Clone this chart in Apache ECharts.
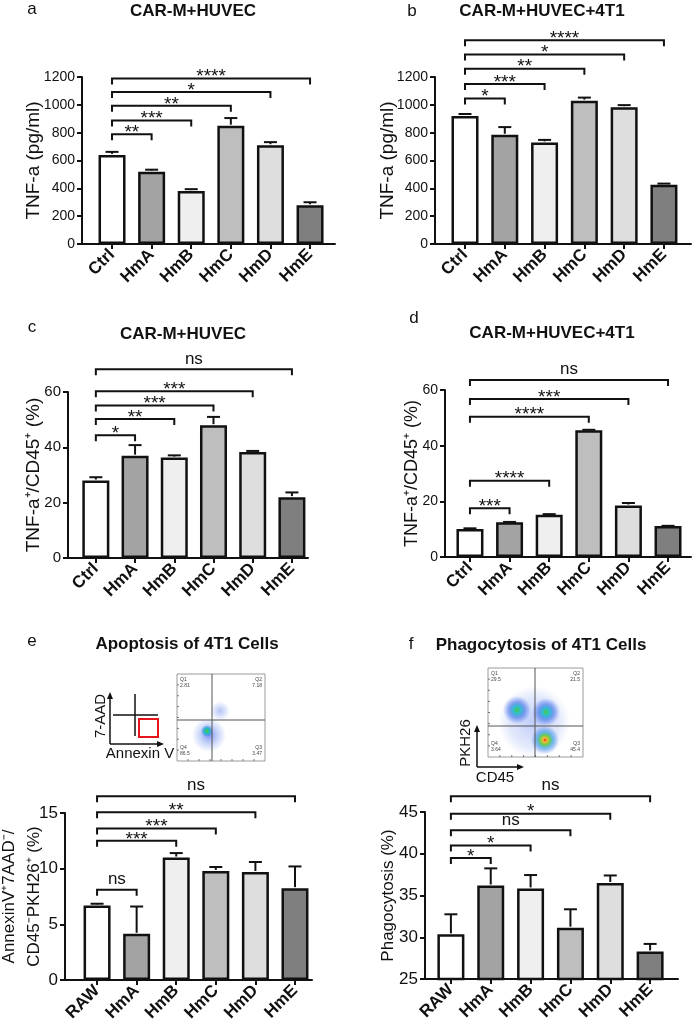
<!DOCTYPE html>
<html><head><meta charset="utf-8">
<script src="https://cdn.jsdelivr.net/npm/echarts@6/dist/echarts.min.js"></script>
<style>html,body{margin:0;padding:0;background:#fff}#c{width:697px;height:1030px}</style>
</head><body><div id="c"></div>
<script>
// ---------------- DATA ----------------
const catsCtrl = ['Ctrl','HmA','HmB','HmC','HmD','HmE'];
const catsRAW  = ['RAW','HmA','HmB','HmC','HmD','HmE'];

const aMean = [640, 520, 380, 850, 710, 278];
const aSD   = [22, 14, 14, 55, 22, 22];
const aSig  = [[1, 788, '**'], [2, 887, '***'], [3, 993, '**'], [4, 1092, '*'], [5, 1190, '****']];

const bMean = [920, 785, 730, 1030, 983, 425];
const bSD   = [14, 55, 18, 22, 15, 9];
const bSig  = [[1, 1046, '*'], [2, 1150, '***'], [3, 1260, '**'], [4, 1361, '*'], [5, 1464, '****']];

const cMean = [28, 37, 36.3, 48, 38.3, 22];
const cSD   = [1.2, 3.8, 0.8, 3, 0.4, 1.7];
const cSig  = [[1, 44.4, '*'], [2, 50.2, '**'], [3, 55.1, '***'], [4, 60.3, '***'], [5, 68.2, 'ns']];

const dMean = [10.1, 12.5, 15.2, 45.5, 18.5, 11.1];
const dSD   = [0.2, 0.1, 0.2, 0.2, 0.9, 0.1];
const dSig  = [[1, 17.5, '***'], [2, 27.4, '****'], [3, 50.4, '****'], [4, 56.8, '***'], [5, 63.6, 'ns']];

const eMean = [6.7, 4.15, 11.0, 9.8, 9.7, 8.25];
const eSD   = [0.15, 2.45, 0.4, 0.35, 0.9, 1.95];
const eSig  = [[1, 8.1, 'ns'], [2, 12.5, '***'], [3, 13.6, '***'], [4, 15.07, '**'], [5, 16.5, 'ns']];

const fMean = [30.35, 36.2, 35.85, 31.15, 36.5, 28.3];
const fSD   = [2.4, 2.05, 1.6, 2.2, 0.9, 0.9];
const fSig  = [[1, 39.5, '*'], [2, 41.0, '*'], [3, 42.8, 'ns'], [4, 44.8, '*'], [5, 46.9, 'ns']];

const yScaleTNF  = {min: 0, max: 1200, interval: 200};
const yScalePct  = {min: 0, max: 60, interval: 20};
const yScaleApo  = {min: 0, max: 15, interval: 5};
const yScalePhag = {min: 25, max: 45, interval: 5};

const quadE = ['Q1', '2.81', 'Q2', '7.18', 'Q4', '86.5', 'Q3', '3.47'];
const quadF = ['Q1', '29.5', 'Q2', '21.5', 'Q4', '3.64', 'Q3', '45.4'];

// ---------------- STYLE / LAYOUT ----------------
const palette = ['#ffffff', '#a3a3a3', '#efefef', '#bebebe', '#dedede', '#7f7f7f'];
const FONT = 'Liberation Sans, Arial, Helvetica, sans-serif';
const INK = '#111';

const panels = [
  {cats: catsCtrl, mean: aMean, sd: aSD, sig: aSig, ys: yScaleTNF, name: 'TNF-a (pg/ml)',
   box: {left: 82, top: 77, width: 253, height: 167}, xr: [-0.758, 5.63], tick: 14, nameSize: 19, nameGap: 37},
  {cats: catsCtrl, mean: bMean, sd: bSD, sig: bSig, ys: yScaleTNF, name: 'TNF-a (pg/ml)',
   box: {left: 435, top: 77, width: 256, height: 167}, xr: [-0.754, 5.68], tick: 14, nameSize: 19, nameGap: 36},
  {cats: catsCtrl, mean: cMean, sd: cSD, sig: cSig, ys: yScalePct, name: 'TNF-a\u207A/CD45\u207A (%)',
   box: {left: 68, top: 392, width: 240, height: 166}, xr: [-0.71, 5.41], tick: 15, nameSize: 19, nameGap: 23},
  {cats: catsCtrl, mean: dMean, sd: dSD, sig: dSig, ys: yScalePct, name: 'TNF-a\u207A/CD45\u207A (%)',
   box: {left: 445, top: 390, width: 246, height: 167}, xr: [-0.63, 5.58], tick: 14, nameSize: 18, nameGap: 22},
  {cats: catsRAW, mean: eMean, sd: eSD, sig: eSig, ys: yScaleApo, name: 'AnnexinV\u207A7AAD\u207B/\nCD45\u207BPKH26\u207A (%)',
   box: {left: 65, top: 813, width: 247, height: 167}, xr: [-0.81, 5.43], tick: 17, nameSize: 17, nameGap: 18, lh: 25},
  {cats: catsRAW, mean: fMean, sd: fSD, sig: fSig, ys: yScalePhag, name: 'Phagocytosis (%)',
   box: {left: 425, top: 812, width: 253, height: 167}, xr: [-0.65, 5.7], tick: 17, nameSize: 17, nameGap: 26}
];

const grid = [], xAxis = [], yAxis = [], series = [];
panels.forEach((p, i) => {
  grid.push(Object.assign({outerBoundsMode: 'none', containLabel: false}, p.box));
  xAxis.push({
    type: 'value', gridIndex: i, min: p.xr[0], max: p.xr[1],
    axisLine: {show: true, onZero: false, lineStyle: {color: INK, width: 2}},
    axisTick: {show: true, length: 5, customValues: [0, 1, 2, 3, 4, 5], lineStyle: {color: INK, width: 2}},
    axisLabel: {customValues: [0, 1, 2, 3, 4, 5], formatter: v => p.cats[Math.round(v)], rotate: 45, margin: 8,
      fontFamily: FONT, fontWeight: 'bold', fontSize: 17, color: INK},
    splitLine: {show: false}
  });
  yAxis.push({
    type: 'value', gridIndex: i, min: p.ys.min, max: p.ys.max, interval: p.ys.interval,
    axisLine: {show: true, onZero: false, lineStyle: {color: INK, width: 2}},
    axisTick: {show: true, length: 5, lineStyle: {color: INK, width: 2}},
    axisLabel: {fontFamily: FONT, fontSize: p.tick, color: INK, margin: 7, formatter: v => String(v)},
    splitLine: {show: false},
    name: p.name, nameLocation: 'middle', nameGap: p.nameGap, nameRotate: 90, nameMoveOverlap: false,
    nameTextStyle: {fontFamily: FONT, fontSize: p.nameSize, color: INK, lineHeight: p.lh || p.nameSize * 1.2}
  });
  series.push({
    type: 'bar', xAxisIndex: i, yAxisIndex: i, barWidth: 27, z: 2,
    data: p.mean.map((m, k) => ({value: [k, m], itemStyle: {color: palette[k]}})),
    itemStyle: {borderColor: INK, borderWidth: 2.5}
  });
  series.push({
    type: 'custom', xAxisIndex: i, yAxisIndex: i, clip: false, z: 3, silent: true,
    data: p.mean.map((m, k) => [k, m, m + p.sd[k]]),
    renderItem: (params, api) => {
      const x = api.value(0);
      const p0 = api.coord([x, api.value(1)]);
      const p1 = api.coord([x, api.value(2)]);
      return {type: 'group', children: [
        {type: 'line', shape: {x1: p0[0], y1: p0[1] - 1, x2: p1[0], y2: p1[1]}, style: {stroke: INK, lineWidth: 2}},
        {type: 'line', shape: {x1: p1[0] - 6.5, y1: p1[1], x2: p1[0] + 6.5, y2: p1[1]}, style: {stroke: INK, lineWidth: 2}}
      ]};
    }
  });
  series.push({
    type: 'custom', xAxisIndex: i, yAxisIndex: i, clip: false, z: 4, silent: true,
    data: p.sig.map(s => [0, s[0], s[1]]),
    renderItem: (params, api) => {
      const s = p.sig[params.dataIndex];
      const y = api.value(2);
      const p0 = api.coord([0, y]);
      const p1 = api.coord([api.value(1), y]);
      const isNs = s[2] === 'ns';
      const t = 6;
      return {type: 'group', children: [
        {type: 'polyline', shape: {points: [[p0[0], p0[1] + t], [p0[0], p0[1]], [p1[0], p1[1]], [p1[0], p1[1] + t]]},
          style: {stroke: INK, lineWidth: 2, fill: null}},
        {type: 'text', x: (p0[0] + p1[0]) / 2, y: isNs ? p0[1] - 2 : p0[1] + 8,
          style: {text: s[2], fill: INK, font: (isNs ? '17px ' : '19px ') + FONT, align: 'center', verticalAlign: 'bottom'}}
      ]};
    }
  });
});

// ---------------- TITLES & INSETS ----------------
const titles = [
  ['CAR-M+HUVEC', 193, 11], ['CAR-M+HUVEC+4T1', 542, 11],
  ['CAR-M+HUVEC', 183, 334], ['CAR-M+HUVEC+4T1', 552, 333],
  ['Apoptosis of 4T1 Cells', 187, 644], ['Phagocytosis of 4T1 Cells', 541, 645]
];
const letters = [['a', 32, 9], ['b', 412, 11], ['c', 32, 327], ['d', 414, 318], ['e', 32, 641], ['f', 411, 644]];

const g = [];
titles.forEach(t => g.push({type: 'text', x: t[1], y: t[2], style: {text: t[0], font: 'bold 17px ' + FONT, fill: INK, align: 'center', verticalAlign: 'middle'}}));
letters.forEach(t => g.push({type: 'text', x: t[1], y: t[2], style: {text: t[0], font: '17px ' + FONT, fill: INK, align: 'center', verticalAlign: 'middle'}}));

function line(x1, y1, x2, y2, stroke, w) {
  return {type: 'line', shape: {x1, y1, x2, y2}, style: {stroke: stroke || INK, lineWidth: w || 1.5}};
}
function arrowHead(pts) { return {type: 'polygon', shape: {points: pts}, style: {fill: INK}}; }
function blob(cx, cy, rx, ry, stops) {
  return {type: 'ellipse', shape: {cx, cy, rx, ry},
    style: {fill: {type: 'radial', x: 0.5, y: 0.5, r: 0.5, colorStops: stops.map(s => ({offset: s[0], color: s[1]}))}}};
}
function flowBox(x, y, w, h, qx, qy, q) {
  const els = [{type: 'rect', shape: {x, y, width: w, height: h}, style: {fill: '#fff', stroke: '#9a9a9a', lineWidth: 1}}];
  for (let k = 1; k < 8; k++) {
    els.push(line(x + k * w / 8, y + h, x + k * w / 8, y + h - 2, '#777', 1));
    els.push(line(x, y + k * h / 8, x + 2, y + k * h / 8, '#777', 1));
  }
  const f = '5px ' + FONT;
  const tx = (s, xx, yy, al) => ({type: 'text', x: xx, y: yy, z: 20, style: {text: s, font: f, fill: '#444', align: al, verticalAlign: 'top'}});
  els.push(tx(q[0], x + 3, y + 3, 'left'), tx(q[1], x + 3, y + 9, 'left'));
  els.push(tx(q[2], x + w - 3, y + 3, 'right'), tx(q[3], x + w - 3, y + 9, 'right'));
  els.push(tx(q[4], x + 3, y + h - 16, 'left'), tx(q[5], x + 3, y + h - 10, 'left'));
  els.push(tx(q[6], x + w - 3, y + h - 16, 'right'), tx(q[7], x + w - 3, y + h - 10, 'right'));
  return {els, quad: [line(qx, y, qx, y + h, '#555', 1), line(x, qy, x + w, qy, '#555', 1)]};
}

// inset e: schematic
g.push({type: 'text', x: 101, y: 716, rotation: Math.PI / 2, style: {text: '7-AAD', font: '15px ' + FONT, fill: INK, align: 'center', verticalAlign: 'middle'}});
g.push(line(110, 744, 110, 698, INK, 1.5), arrowHead([[110, 692], [107, 699], [113, 699]]));
g.push(line(110, 744, 158, 744, INK, 1.5), arrowHead([[164, 744], [157, 741], [157, 747]]));
g.push(line(135, 694, 135, 736, INK, 1.5), line(113, 715, 158, 715, INK, 1.5));
g.push({type: 'rect', shape: {x: 139, y: 719, width: 19, height: 18}, style: {fill: 'none', stroke: '#e8141b', lineWidth: 2}});
g.push({type: 'text', x: 140, y: 754, style: {text: 'Annexin V', font: '15px ' + FONT, fill: INK, align: 'center', verticalAlign: 'middle'}});
// inset e: flow plot
const fe = flowBox(177, 674, 88, 87, 212, 720, quadE);
g.push(...fe.els);
g.push(blob(209, 735, 17, 27, [[0, 'rgba(40,80,230,0.6)'], [0.6, 'rgba(70,110,235,0.25)'], [1, 'rgba(70,110,235,0)']]));
g.push(blob(220, 711, 12, 10, [[0, 'rgba(70,110,235,0.4)'], [1, 'rgba(70,110,235,0)']]));
g.push(blob(207, 731, 6, 9, [[0, '#44cc33'], [0.45, '#22b8c8'], [1, 'rgba(40,110,235,0)']]));
g.push(...fe.quad);

// inset f: flow plot
const ff = flowBox(488, 668, 95, 89, 535, 726, quadF);
g.push(...ff.els);
g.push(blob(534, 722, 48, 36, [[0, 'rgba(70,110,235,0.35)'], [0.7, 'rgba(70,110,235,0.15)'], [1, 'rgba(70,110,235,0)']]));
g.push(blob(517, 710, 18, 14, [[0, '#49c53c'], [0.25, '#2ec2cc'], [0.6, 'rgba(45,95,230,0.5)'], [1, 'rgba(45,95,230,0)']]));
g.push(blob(546, 712, 14, 16, [[0, '#4cc840'], [0.25, '#2ec0d0'], [0.6, 'rgba(45,95,230,0.5)'], [1, 'rgba(45,95,230,0)']]));
g.push(blob(545, 740, 14, 18, [[0, '#e83020'], [0.15, '#f5b835'], [0.35, '#6ad04a'], [0.6, 'rgba(40,150,230,0.6)'], [1, 'rgba(45,95,230,0)']]));
g.push(...ff.quad);
// inset f: axes
g.push({type: 'text', x: 466, y: 743, rotation: Math.PI / 2, style: {text: 'PKH26', font: '15px ' + FONT, fill: INK, align: 'center', verticalAlign: 'middle'}});
g.push(line(477, 767, 477, 731, INK, 1.5), arrowHead([[477, 725], [474, 732], [480, 732]]));
g.push(line(477, 767, 518, 767, INK, 1.5), arrowHead([[524, 767], [517, 764], [517, 770]]));
g.push({type: 'text', x: 495, y: 778, style: {text: 'CD45', font: '15px ' + FONT, fill: INK, align: 'center', verticalAlign: 'middle'}});

const chart = echarts.init(document.getElementById('c'), null, {renderer: 'canvas'});
chart.setOption({
  backgroundColor: '#fff',
  animation: false,
  textStyle: {fontFamily: FONT},
  grid, xAxis, yAxis, series,
  graphic: {elements: g}
});
</script>
</body></html>
